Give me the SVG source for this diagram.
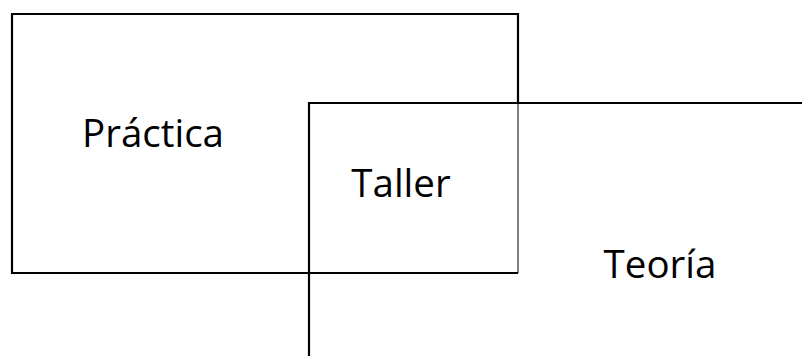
<svg xmlns="http://www.w3.org/2000/svg" width="802" height="356" viewBox="0 0 802 356">
<style>
.e{fill:none;stroke:#000;stroke-width:2.2}
.t{font-family:"Open Sans","Noto Sans",sans-serif;font-size:38.5px;fill:#000;text-anchor:middle}
</style>
<rect width="802" height="356" fill="#fff"/>
<g id="practica">
<path class="e" d="M518,103 V14 H12 V273 H309"/>
<text class="t" x="153" y="147">Práctica</text>
</g>
<g id="taller">
<path d="M518,103 V273" fill="none" stroke="#555" stroke-width="1.5"/>
<path class="e" d="M309,273 H518"/>
<text class="t" x="401" y="197">Taller</text>
</g>
<g id="teoria">
<path class="e" d="M802,103 H309 V356"/>
<text class="t" x="660" y="278">Teoría</text>
</g>
<g id="connectors"/>
</svg>
